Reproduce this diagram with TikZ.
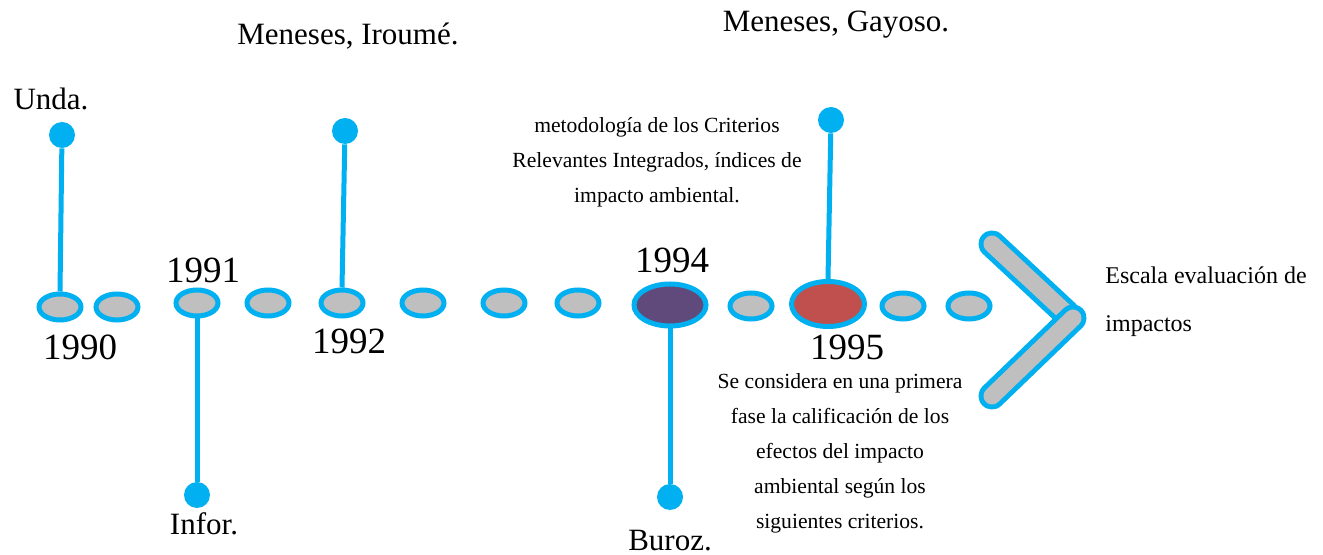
\documentclass[tikz,border=0pt]{standalone}
\usepackage{fontspec}
\setmainfont{Liberation Serif}
\usepackage{tikz}
\usetikzlibrary{shapes,positioning}
\usepackage{xcolor}
\definecolor{tlcyan}{RGB}{0,176,240}
\definecolor{tlgray}{RGB}{191,191,191}
\definecolor{tlpurple}{RGB}{96,74,123}
\definecolor{tlred}{RGB}{192,80,77}
\tikzstyle{stem} = [line width=2.5pt, color=tlcyan]
\tikzstyle{bead} = [ellipse, draw=tlcyan, fill=tlgray, line width=2.5pt, minimum width=21pt, minimum height=13pt, inner sep=0pt]
\tikzstyle{bigbead} = [bead, minimum width=36pt, minimum height=21pt]
\tikzstyle{knob} = [circle, fill=tlcyan, minimum size=13pt, inner sep=0pt]
\tikzstyle{year} = [font=\fontsize{18.5}{22}\selectfont, inner sep=0pt]
\tikzstyle{author} = [font=\fontsize{15.5}{19}\selectfont, inner sep=0pt]
\tikzstyle{note} = [font=\fontsize{10.8}{17.5}\selectfont, align=center, inner sep=0pt]

\begin{document}
\begin{tikzpicture}[x=0.5pt, y=-0.5pt]
\useasboundingbox (0,0) rectangle (1323,555);

% Beads on the line
\node[bead] (b1) at (60,307) {};
\node[bead] (b2) at (117,307) {};
\node[bead] (b3) at (197,303) {};
\node[bead] (b4) at (268,303) {};
\node[bead] (b5) at (342,303) {};
\node[bead] (b6) at (423,303) {};
\node[bead] (b7) at (504,303) {};
\node[bead] (b8) at (578,303) {};
\node[bigbead, fill=tlpurple] (b9) at (670,305) {};
\node[bead] (b10) at (751,306) {};
\node[bigbead, fill=tlred, minimum width=36.5pt, minimum height=22.5pt] (b11) at (828,304) {};
\node[bead] (b12) at (903,306) {};
\node[bead] (b13) at (969,306) {};

% Years
\node[year] (y90) at (80,347) {1990};
\node[year] (y91) at (203,270) {1991};
\node[year] (y92) at (349,341) {1992};
\node[year] (y94) at (672,260) {1994};
\node[year] (y95) at (847,347) {1995};

% Knobs and stems
\node[knob] (k1) at (62,135) {};
\node[knob] (k2) at (197,495) {};
\node[knob] (k3) at (345,131) {};
\node[knob] (k4) at (670,497) {};
\node[knob] (k5) at (831,120) {};
\draw[stem] (k1) -- (b1.north);
\draw[stem] (b3.south) -- (k2);
\draw[stem] (k3) -- (b5.north);
\draw[stem] (b9.south) -- (k4);
\draw[stem] (k5) -- (b11.north);

% Authors
\node[author] (unda) at (51,99) {Unda.};
\node[author] (infor) at (204,524) {Infor.};
\node[author] (iroume) at (348,36) {Meneses, Iroumé.};
\node[author] (buroz) at (670,541) {Buroz.};
\node[author] (gayoso) at (836,25) {Meneses, Gayoso.};

% Notes
\node[note] (crit) at (657,162) {metodología de los Criterios\\Relevantes Integrados, índices de\\impacto ambiental.};
\node[note] (fase) at (840,453) {Se considera en una primera\\fase la calificación de los\\efectos del impacto\\ambiental según los\\siguientes criterios.};

% Chevron
\coordinate (c1) at (992,244);
\coordinate (c2) at (1066,313);
\coordinate (c3) at (1073,318);
\coordinate (c4) at (992,396);
\draw[line width=13.5pt, tlcyan, line cap=round] (c1) -- (c2);
\draw[line width=8.5pt, tlgray, line cap=round] (c1) -- (c2);
\draw[line width=13.5pt, tlcyan, line cap=round] (c3) -- (c4);
\draw[line width=8.5pt, tlgray, line cap=round] (c3) -- (c4);
\node[font=\fontsize{12}{24}\selectfont, align=left, anchor=west, inner sep=0pt] (escala) at (1105,302) {Escala evaluación de\\impactos};
\end{tikzpicture}
\end{document}
